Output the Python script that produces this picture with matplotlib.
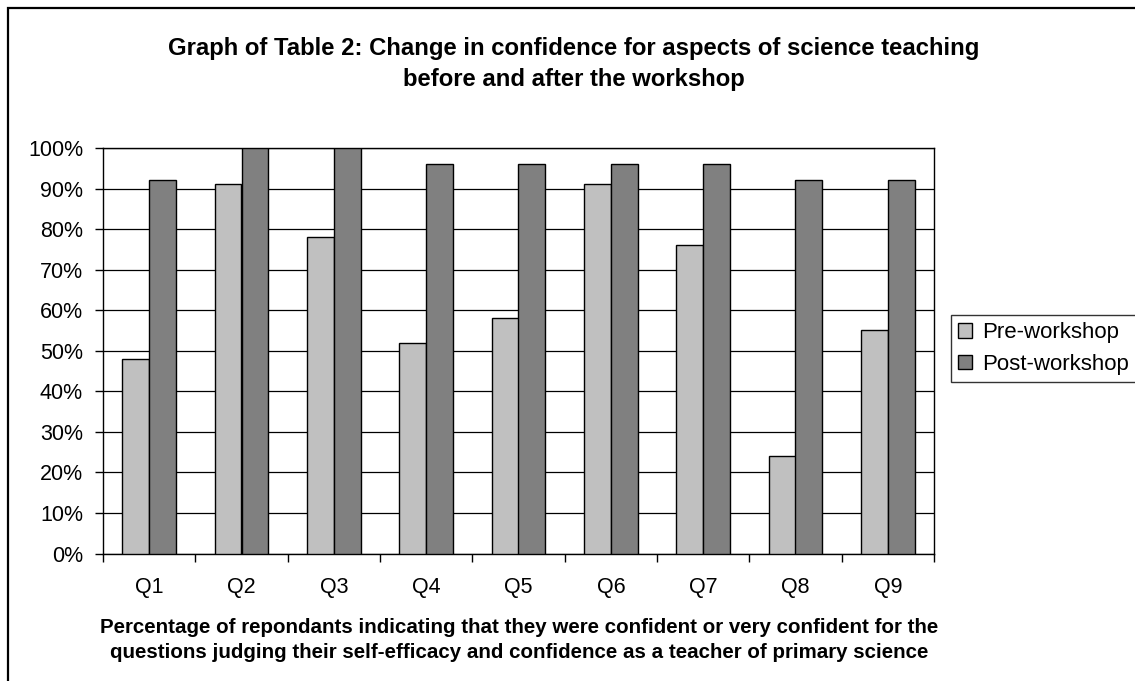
import matplotlib
matplotlib.use("Agg")
import matplotlib.pyplot as plt
from matplotlib.patches import Rectangle
import numpy as np

# Survey results: share of respondents confident / very confident
categories = ["Q1", "Q2", "Q3", "Q4", "Q5", "Q6", "Q7", "Q8", "Q9"]
pre_workshop = [48, 91, 78, 52, 58, 91, 76, 24, 55]
post_workshop = [92, 100, 100, 96, 96, 96, 96, 92, 92]
series_names = ["Pre-workshop", "Post-workshop"]
y_ticks = list(range(0, 101, 10))
y_tick_labels = [f"{v}%" for v in y_ticks]

title_lines = ["Graph of Table 2: Change in confidence for aspects of science teaching",
               "before and after the workshop"]
xlabel_lines = ["Percentage of repondants indicating that they were confident or very confident for the",
                "questions judging their self-efficacy and confidence as a teacher of primary science"]

plt.rcParams["font.family"] = ["Liberation Sans", "DejaVu Sans"]

W, H = 1135, 681
fig = plt.figure(figsize=(W / 100, H / 100), dpi=100)
fig.patch.set_facecolor("white")


def fx(px):
    return px / W


def fy(py):
    return 1 - py / H


# plot area
left, right, top, bottom = 103, 934, 148, 553.5
ax = fig.add_axes([fx(left), fy(bottom), fx(right - left), (bottom - top) / H])

x = np.arange(len(categories))
bw = 0.29
ax.bar(x - bw / 2, pre_workshop, bw, color="#C0C0C0", edgecolor="black", linewidth=1.0, zorder=3,
       label=series_names[0])
ax.bar(x + bw / 2, post_workshop, bw, color="#808080", edgecolor="black", linewidth=1.0, zorder=3,
       label=series_names[1])

ax.set_xlim(-0.5, len(categories) - 0.5)
ax.set_ylim(0, 100)
ax.set_yticks(y_ticks)
ax.set_yticklabels(y_tick_labels, fontsize=15.5)
ax.yaxis.grid(True, color="black", linewidth=0.9, zorder=1)
ax.set_axisbelow(True)

ax.set_xticks(x)
ax.set_xticklabels(categories, fontsize=15.5)
ax.tick_params(axis="x", which="major", length=0, pad=17)
ax.set_xticks(np.arange(-0.5, len(categories), 1.0), minor=True)
ax.tick_params(axis="x", which="minor", length=5.8, width=1, color="black", direction="out")
ax.tick_params(axis="y", length=5.8, width=1, color="black", direction="out", pad=8.6)

for s in ax.spines.values():
    s.set_color("black")
    s.set_linewidth(1.0)

# outer chart border
fig.patches.append(Rectangle((fx(8), fy(H + 20)), fx(W + 20), fy(8) - fy(H + 20),
                             transform=fig.transFigure, fill=False, edgecolor="black",
                             linewidth=1.6, zorder=0))

# title
fig.text(fx(574), fy(55), title_lines[0], ha="center", va="baseline", fontsize=17.2, fontweight="bold")
fig.text(fx(574), fy(86), title_lines[1], ha="center", va="baseline", fontsize=17.2, fontweight="bold")

# axis caption
fig.text(fx(519), fy(633), xlabel_lines[0], ha="center", va="baseline", fontsize=14.8, fontweight="bold")
fig.text(fx(519), fy(658), xlabel_lines[1], ha="center", va="baseline", fontsize=14.8, fontweight="bold")

leg = fig.legend(loc="upper left", bbox_to_anchor=(fx(951), fy(315)), fontsize=16,
                 frameon=True, fancybox=False, shadow=False, borderaxespad=0,
                 handlelength=0.6, handleheight=0.6, handletextpad=0.45,
                 borderpad=0.33, labelspacing=0.46)
leg.get_frame().set_edgecolor("black")
leg.get_frame().set_linewidth(1.0)
for h in leg.legend_handles:
    h.set_edgecolor("black")
    h.set_linewidth(1.0)

fig.savefig("out.png", dpi=100, facecolor="white")
